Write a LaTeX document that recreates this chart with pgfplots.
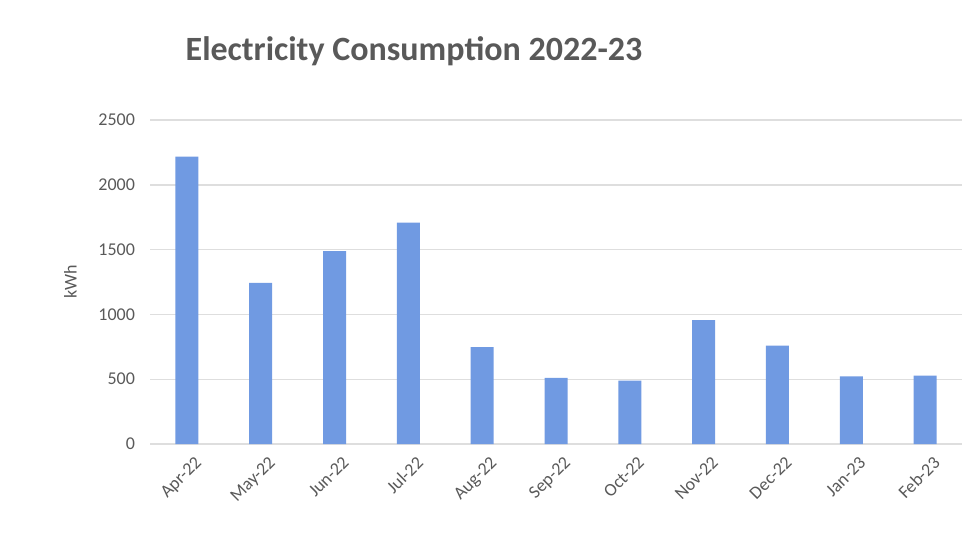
\documentclass[border=0pt]{standalone}
\usepackage{fontspec}
\setmainfont{Carlito}
\usepackage{pgfplots}
\pgfplotsset{compat=1.18}
\definecolor{barc}{RGB}{112,154,226}
\definecolor{txt}{RGB}{89,89,89}
\definecolor{gridc}{RGB}{222,222,222}
\begin{document}
\begin{tikzpicture}
\path (0pt,0pt) rectangle (489pt,271.5pt);
\begin{axis}[
  at={(75pt,49.5pt)}, anchor=south west,
  scale only axis, width=406pt, height=162pt,
  xmin=-0.5, xmax=10.5, ymin=0, ymax=2500,
  ytick={0,500,1000,1500,2000,2500},
  xtick=data,
  xticklabels={Apr-22,May-22,Jun-22,Jul-22,Aug-22,Sep-22,Oct-22,Nov-22,Dec-22,Jan-23,Feb-23},
  ymajorgrids, grid style={gridc, line width=0.7pt},
  axis line style={draw=none},
  major tick length=0pt,
  /pgf/number format/assume math mode=true,
  /pgf/number format/1000 sep={},
  yticklabel style={font=\fontsize{9}{10}\selectfont, color=txt, xshift=-4pt},
  xticklabel style={font=\fontsize{9}{10}\selectfont, color=txt, rotate=45, anchor=north east, yshift=-3pt, xshift=2pt},
  ylabel={kWh},
  every axis y label/.style={at={(ticklabel cs:0.5)}, rotate=90, anchor=south, font=\fontsize{9}{10}\selectfont, color=txt},
  ylabel shift=4pt,
]
\addplot[ybar, fill=barc, draw=none, bar width=11.5pt] coordinates {
(0,2218) (1,1244) (2,1488) (3,1708) (4,747) (5,510) (6,489) (7,955) (8,760) (9,522) (10,528)};
\end{axis}
\node[font=\fontsize{17}{19}\selectfont\bfseries, color=txt] at (207pt,246pt) {Electricity Consumption 2022-23};
\end{tikzpicture}
\end{document}
